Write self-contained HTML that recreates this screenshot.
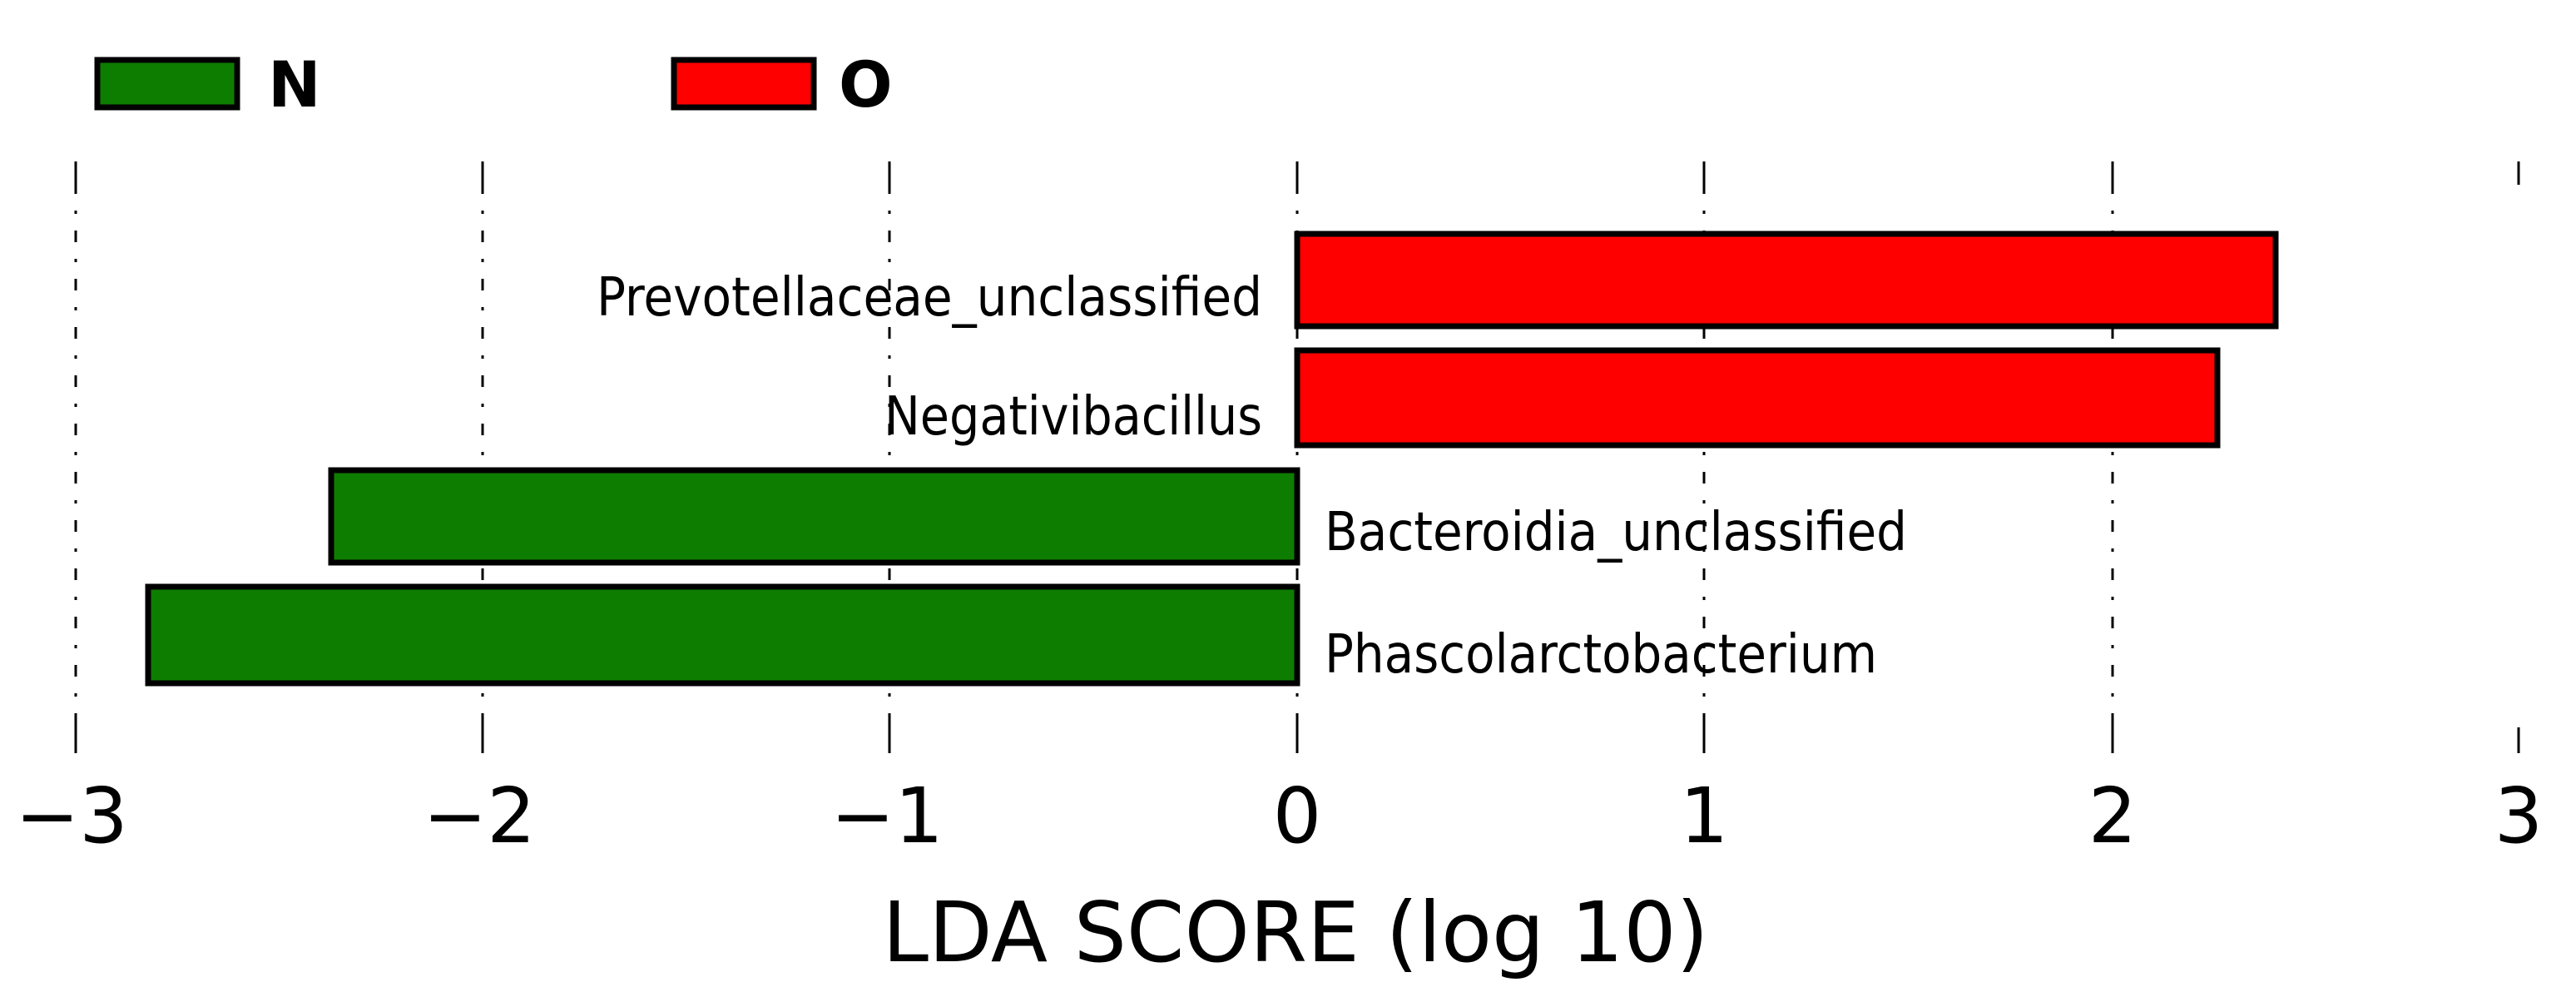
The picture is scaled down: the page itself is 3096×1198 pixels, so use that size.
<!DOCTYPE html>
<html><head><meta charset="utf-8"><style>body{margin:0;background:#fff}svg{display:block}</style></head>
<body>
<svg width="3096" height="1198" viewBox="0 0 3096 1198" xmlns="http://www.w3.org/2000/svg">
<g stroke="#000" stroke-width="3">
<g stroke-dasharray="4 20 14 20">
<line x1="91" y1="195" x2="91" y2="905"/><line x1="580" y1="195" x2="580" y2="905"/><line x1="1069" y1="195" x2="1069" y2="905"/><line x1="1559" y1="195" x2="1559" y2="905"/><line x1="2048" y1="195" x2="2048" y2="905"/><line x1="2539" y1="195" x2="2539" y2="905"/>
</g>
<line x1="91" y1="194" x2="91" y2="232"/><line x1="580" y1="194" x2="580" y2="232"/><line x1="1069" y1="194" x2="1069" y2="232"/><line x1="1559" y1="194" x2="1559" y2="232"/><line x1="2048" y1="194" x2="2048" y2="232"/><line x1="2539" y1="194" x2="2539" y2="232"/><line x1="3027" y1="194" x2="3027" y2="222"/>
<line x1="91" y1="868" x2="91" y2="905"/><line x1="580" y1="868" x2="580" y2="905"/><line x1="1069" y1="868" x2="1069" y2="905"/><line x1="1559" y1="868" x2="1559" y2="905"/><line x1="2048" y1="868" x2="2048" y2="905"/><line x1="2539" y1="868" x2="2539" y2="905"/><line x1="3027" y1="874" x2="3027" y2="905"/>
</g>
<g stroke="#000" stroke-width="7">
<rect x="1559" y="281" width="1176" height="111" fill="#ff0000"/>
<rect x="1559" y="421" width="1106" height="114" fill="#ff0000"/>
<rect x="398" y="565" width="1161" height="111" fill="#0d7d00"/>
<rect x="178" y="705" width="1381" height="116" fill="#0d7d00"/>
<rect x="117" y="72" width="168" height="57" fill="#0d7d00"/>
<rect x="810" y="72" width="168" height="57" fill="#ff0000"/>
</g>
<g font-family="DejaVu Sans Condensed, DejaVu Sans, sans-serif" font-size="64" fill="#000">
<text x="1517" y="379" text-anchor="end" textLength="800" lengthAdjust="spacingAndGlyphs">Prevotellaceae_unclassified</text>
<text x="1517" y="522" text-anchor="end" textLength="454" lengthAdjust="spacingAndGlyphs">Negativibacillus</text>
<text x="1592" y="661" textLength="700" lengthAdjust="spacingAndGlyphs">Bacteroidia_unclassified</text>
<text x="1592" y="808" textLength="664" lengthAdjust="spacingAndGlyphs">Phascolarctobacterium</text>
</g>
<g font-family="DejaVu Sans, sans-serif" font-size="76" font-weight="bold" fill="#000">
<text x="322" y="128">N</text><text x="1008" y="128">O</text>
</g>
<g font-family="DejaVu Sans, sans-serif" font-size="92" fill="#000" text-anchor="middle">
<text x="86" y="1012">−3</text><text x="576" y="1012">−2</text><text x="1066" y="1012">−1</text><text x="1559" y="1012">0</text><text x="2048" y="1012">1</text><text x="2539" y="1012">2</text><text x="3027" y="1012">3</text>
</g>
<text x="1557" y="1155" text-anchor="middle" font-family="DejaVu Sans, sans-serif" font-size="100" textLength="993" lengthAdjust="spacingAndGlyphs">LDA SCORE (log 10)</text>
</svg>
</body></html>
